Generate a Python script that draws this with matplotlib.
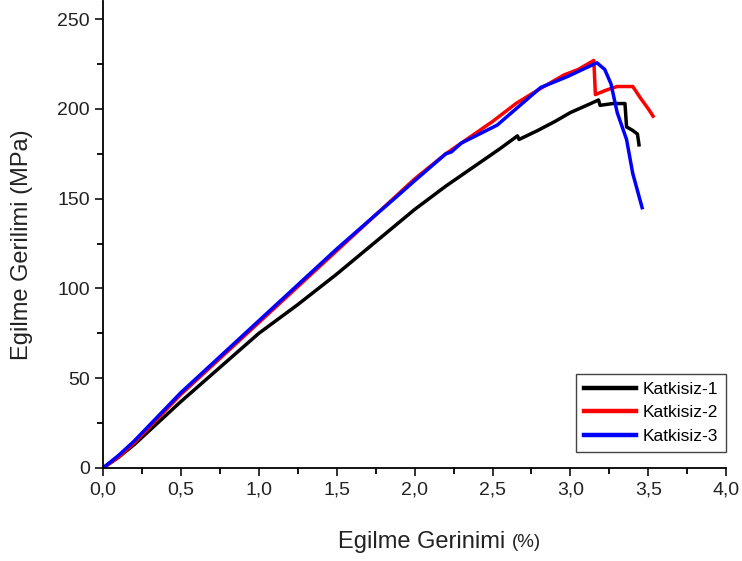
import matplotlib
matplotlib.use("Agg")
import matplotlib.pyplot as plt
from matplotlib.ticker import MultipleLocator, FuncFormatter

plt.rcParams['font.family'] = ['Liberation Sans', 'DejaVu Sans']

# Strain (%) / stress (MPa) readings for each specimen
strain_1 = [0, 0.1, 0.2, 0.3, 0.4, 0.5, 0.75, 1.0, 1.25, 1.5, 1.75, 2.0, 2.2, 2.4, 2.55,
            2.66, 2.67, 2.79, 2.9, 3.0, 3.13, 3.18, 3.19, 3.27, 3.35, 3.36, 3.4, 3.43, 3.44]
stress_1 = [0, 6, 13, 21, 29, 37, 56, 75, 91, 108, 126, 144, 157, 169, 178,
            185, 183, 188, 193, 198, 203, 205, 202, 203, 203, 190, 188, 186, 180]

strain_2 = [0, 0.1, 0.2, 0.3, 0.5, 0.75, 1.0, 1.5, 2.0, 2.2, 2.5, 2.65, 2.8, 2.96, 3.05,
            3.15, 3.16, 3.23, 3.3, 3.4, 3.45, 3.5, 3.53]
stress_2 = [0, 6, 14, 23, 41, 61, 81, 121, 161, 175, 193, 203, 211, 219, 222,
            227, 208, 210.5, 212.5, 212.5, 206, 200, 196]

strain_3 = [0, 0.1, 0.2, 0.3, 0.5, 0.75, 1.0, 1.25, 1.5, 1.75, 1.87, 2.0, 2.2, 2.235, 2.3,
            2.53, 2.65, 2.81, 2.98, 3.09, 3.17, 3.22, 3.26, 3.30, 3.36, 3.40, 3.46]
stress_3 = [0, 7, 15, 24, 42, 62, 82, 102, 122, 141, 150, 160, 175, 176, 181,
            191, 200, 212, 218, 222.5, 225.7, 222, 214, 198, 183, 164, 145]

labels = ['Katkisiz-1', 'Katkisiz-2', 'Katkisiz-3']
colors = ['#000000', '#ff0000', '#0000ff']

fig = plt.figure(figsize=(7.42, 5.61), dpi=100)
ax = fig.add_axes([0.1388, 0.1658, 0.840, 0.832])

for x, y, lab, c in zip([strain_1, strain_2, strain_3], [stress_1, stress_2, stress_3], labels, colors):
    ax.plot(x, y, color=c, lw=2.5, label=lab)

ax.set_xlim(0, 4.0)
ax.set_ylim(0, 260)
ax.xaxis.set_major_locator(MultipleLocator(0.5))
ax.xaxis.set_minor_locator(MultipleLocator(0.25))
ax.yaxis.set_major_locator(MultipleLocator(50))
ax.yaxis.set_minor_locator(MultipleLocator(25))
ax.xaxis.set_major_formatter(FuncFormatter(lambda v, p: f"{v:.1f}".replace('.', ',')))

for s in ['top', 'right']:
    ax.spines[s].set_visible(False)
for s in ['left', 'bottom']:
    ax.spines[s].set_linewidth(1.3)
ax.tick_params(which='major', direction='out', length=6, width=1.3, labelsize=14, colors='#222222')
ax.tick_params(which='minor', direction='out', length=4, width=1.3)

ax.set_ylabel('Egilme Gerilimi (MPa)', fontsize=17, color='#222222')
ax.yaxis.set_label_coords(-0.112, 0.478)
fig.text(0.6806, 0.023, 'Egilme Gerinimi', fontsize=17, ha='right', va='baseline', color='#222222')
fig.text(0.690, 0.025, '(%)', fontsize=13.5, ha='left', va='baseline', color='#222222')

leg = ax.legend(loc='lower right', bbox_to_anchor=(1.0, 0.034), borderaxespad=0,
                fontsize=12.5, handlelength=3.0, handletextpad=0.4, fancybox=False,
                framealpha=1, edgecolor='#444444', borderpad=0.45, labelspacing=0.5)
leg.get_frame().set_linewidth(1.0)
for line in leg.get_lines():
    line.set_linewidth(3.2)

fig.savefig('out.png', dpi=100)
